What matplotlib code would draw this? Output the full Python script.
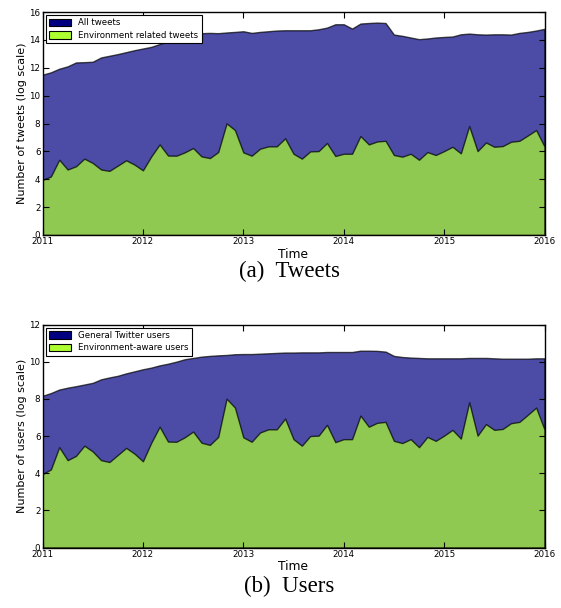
import matplotlib
matplotlib.use("Agg")
import matplotlib.pyplot as plt
from matplotlib.patches import Patch
import numpy as np

# Monthly values, Jan 2011 .. Jan 2016 (log scale)
start_year = 2011
year_ticks = [2011, 2012, 2013, 2014, 2015, 2016]

all_tweets = [
    11.50, 11.67, 11.93, 12.10, 12.38, 12.40, 12.43, 12.74, 12.86, 12.98, 13.12, 13.26,
    13.38, 13.50, 13.70, 13.90, 14.10, 14.30, 14.42, 14.48, 14.50, 14.48, 14.53, 14.57,
    14.62, 14.50, 14.57, 14.62, 14.67, 14.69, 14.69, 14.69, 14.69, 14.76, 14.88, 15.12,
    15.12, 14.81, 15.17, 15.21, 15.24, 15.21, 14.38, 14.29, 14.17, 14.05, 14.10, 14.17,
    14.21, 14.24, 14.40, 14.45, 14.40, 14.38, 14.40, 14.40, 14.38, 14.50, 14.57, 14.67,
    14.79,
]

env_tweets = [
    3.95, 4.20, 5.40, 4.70, 4.93, 5.48, 5.17, 4.70, 4.60, 4.98, 5.36, 5.05,
    4.64, 5.64, 6.50, 5.70, 5.69, 5.93, 6.24, 5.64, 5.52, 5.95, 8.01, 7.53,
    5.93, 5.69, 6.19, 6.36, 6.36, 6.94, 5.83, 5.48, 6.00, 6.02, 6.60, 5.67,
    5.83, 5.83, 7.10, 6.50, 6.71, 6.76, 5.74, 5.62, 5.83, 5.40, 5.95, 5.74,
    6.02, 6.33, 5.86, 7.82, 6.02, 6.64, 6.33, 6.38, 6.69, 6.76, 7.14, 7.53,
    6.35,
]

all_users = [
    8.16, 8.31, 8.50, 8.60, 8.68, 8.77, 8.86, 9.05, 9.15, 9.24, 9.37, 9.48,
    9.59, 9.68, 9.80, 9.89, 10.00, 10.13, 10.20, 10.27, 10.31, 10.34, 10.36, 10.40,
    10.41, 10.41, 10.43, 10.45, 10.47, 10.49, 10.49, 10.50, 10.50, 10.50, 10.52, 10.52,
    10.52, 10.52, 10.59, 10.59, 10.58, 10.54, 10.31, 10.25, 10.22, 10.20, 10.18, 10.18,
    10.18, 10.18, 10.18, 10.20, 10.20, 10.20, 10.18, 10.16, 10.16, 10.16, 10.16, 10.18,
    10.18,
]

env_users = [
    3.95, 4.20, 5.40, 4.70, 4.93, 5.48, 5.17, 4.70, 4.60, 4.98, 5.36, 5.05,
    4.64, 5.64, 6.50, 5.70, 5.69, 5.93, 6.24, 5.64, 5.52, 5.95, 8.01, 7.53,
    5.93, 5.69, 6.19, 6.36, 6.36, 6.94, 5.83, 5.48, 6.00, 6.02, 6.60, 5.67,
    5.83, 5.83, 7.10, 6.50, 6.71, 6.76, 5.74, 5.62, 5.83, 5.40, 5.95, 5.74,
    6.02, 6.33, 5.86, 7.82, 6.02, 6.64, 6.33, 6.38, 6.69, 6.76, 7.14, 7.53,
    6.35,
]

panels = [
    dict(total=all_tweets, env=env_tweets, ymax=16,
         labels=["All tweets", "Environment related tweets"],
         ylabel="Number of tweets (log scale)", caption="(a)  Tweets"),
    dict(total=all_users, env=env_users, ymax=12,
         labels=["General Twitter users", "Environment-aware users"],
         ylabel="Number of users (log scale)", caption="(b)  Users"),
]

W, H = 561, 608
fig = plt.figure(figsize=(W / 100, H / 100), dpi=100)
plt.rcParams["font.family"] = "DejaVu Sans"

# axes boxes in pixels: (left, top, right, bottom)
boxes = [(42.5, 12, 544.5, 235), (42.5, 324.5, 544.5, 547.5)]
caption_y = [271, 586]
xlabel_y = [254, 567]

navy = "#000080"
gy = "#adff2f"

for p, (l, t, r, b), cy, xy in zip(panels, boxes, caption_y, xlabel_y):
    ax = fig.add_axes([l / W, 1 - b / H, (r - l) / W, (b - t) / H])
    n = len(p["total"])
    x = start_year + np.arange(n) / 12.0
    ax.fill_between(x, 0, p["total"], facecolor=navy, edgecolor="black",
                    alpha=0.7, linewidth=1.0)
    ax.fill_between(x, 0, p["env"], facecolor=gy, edgecolor="black",
                    alpha=0.7, linewidth=1.0)
    ax.set_xlim(year_ticks[0], year_ticks[-1])
    ax.set_ylim(0, p["ymax"])
    ax.set_xticks(year_ticks)
    ax.set_xticklabels([str(y) for y in year_ticks])
    ax.set_yticks(np.arange(0, p["ymax"] + 1, 2))
    ax.tick_params(direction="in", top=True, right=True, length=4,
                   width=0.8, labelsize=6.3, pad=1.5)
    for s in ax.spines.values():
        s.set_linewidth(1.0)
    ax.set_ylabel(p["ylabel"], fontsize=8.0, labelpad=1.5)
    fig.text(0.5 * (l + r) / W + 0.0, 1 - xy / H, "Time", fontsize=8.8,
             ha="center", va="center")
    handles = [Patch(facecolor=navy, edgecolor="black", linewidth=0.8),
               Patch(facecolor=gy, edgecolor="black", linewidth=0.8)]
    leg = ax.legend(handles, p["labels"], loc="upper left", fontsize=6.2,
                    fancybox=False, framealpha=1.0, edgecolor="black",
                    borderpad=0.4, labelspacing=0.4, handlelength=2.6,
                    handleheight=0.9, borderaxespad=0.35)
    leg.get_frame().set_linewidth(0.8)
    fig.text(0.5 * (l + r) / W - 0.008, 1 - cy / H, p["caption"],
             fontsize=16.5, family="Liberation Serif", ha="center", va="center")

fig.savefig("out.png", dpi=100, facecolor="white")
